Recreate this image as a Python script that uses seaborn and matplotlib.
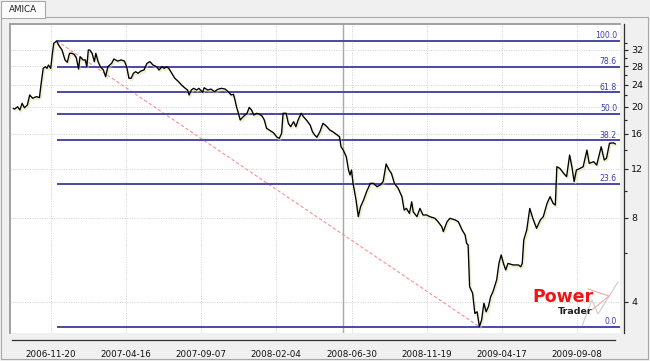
import numpy as np
import pandas as pd
import seaborn as sns
import matplotlib
matplotlib.use("Agg")
import matplotlib.pyplot as plt
from matplotlib.ticker import FixedLocator, FixedFormatter, NullFormatter
from matplotlib.patches import Rectangle
from matplotlib.lines import Line2D
import matplotlib.patheffects as pe

# ---------------- data (bar index, close price) ----------------
bars = [0, 2, 6, 9, 12, 15, 19, 22, 26, 31, 35, 37, 40, 43, 45, 47, 50, 52, 54, 58,
        60, 62, 65, 69, 72, 75, 78, 81, 84, 87, 89, 93, 96, 98, 100, 102, 105, 108, 110, 113,
        116, 120, 123, 126, 131, 134, 139, 144, 148, 151, 154, 157, 160, 163, 166, 170, 174, 178, 182, 186,
        191, 194, 198, 201, 204, 207, 211, 215, 220, 224, 229, 232, 234, 237, 240, 244, 247, 252, 254, 259,
        263, 268, 272, 277, 282, 286, 290, 293, 295, 297, 299, 302, 306, 311, 314, 317, 320, 324, 327, 331,
        334, 337, 342, 346, 351, 354, 357, 359, 363, 366, 369, 373, 376, 379, 383, 386, 390, 395, 398, 401,
        404, 408, 412, 415, 418, 421, 425, 428, 431, 434, 436, 439, 443, 446, 448, 450, 452, 456, 459, 462,
        466, 470, 475, 479, 484, 488, 492, 496, 500, 503, 507, 512, 517, 520, 523, 527, 530, 532, 537, 541,
        545, 550, 554, 561, 565, 570, 572, 577, 581, 588, 592, 597, 601, 603, 605, 607, 611, 614, 617, 620,
        623, 626, 629, 632, 635, 638, 643, 646, 649, 652, 655, 658, 665, 672, 675, 677, 679, 683, 687, 691,
        696, 701, 705, 710, 714, 718, 721, 723, 727, 732, 736, 740, 743, 746, 749, 754, 758, 763, 766, 772,
        776, 782, 786, 789, 793, 798, 801]
prices = [19.77, 19.65, 20.03, 19.50, 20.61, 19.87, 20.32, 22.08, 21.49, 21.77, 21.60, 23.96, 27.50, 27.87, 27.50, 28.26, 27.50, 30.70, 33.80, 34.50,
          33.50, 32.87, 32.00, 29.47, 28.91, 31.14, 31.14, 30.90, 30.03, 27.35, 30.28, 29.47, 29.47, 27.87, 32.00, 32.00, 31.14, 29.06, 31.14, 29.06,
          27.87, 27.13, 25.67, 27.87, 28.66, 29.71, 29.21, 29.47, 29.21, 27.87, 25.34, 25.34, 26.40, 26.75, 26.40, 26.91, 27.13, 28.66, 29.06, 28.26,
          27.87, 27.13, 27.87, 27.50, 27.87, 27.50, 26.40, 25.34, 24.64, 23.96, 23.32, 23.00, 22.08, 23.00, 23.32, 23.00, 23.32, 22.57, 23.43, 23.00,
          23.18, 22.68, 23.13, 23.32, 23.18, 22.68, 22.08, 22.21, 21.19, 20.03, 19.23, 17.96, 18.46, 18.98, 19.93, 19.50, 18.71, 18.98, 18.86, 18.57,
          17.96, 16.77, 16.44, 16.18, 15.57, 15.45, 16.09, 18.98, 18.98, 17.47, 16.99, 17.71, 16.99, 17.96, 18.98, 18.46, 17.96, 17.23, 16.31, 15.87,
          15.57, 16.31, 17.47, 17.23, 16.91, 16.54, 16.31, 16.09, 15.87, 15.65, 14.40, 14.01, 13.26, 11.88, 11.41, 11.88, 10.65, 9.28, 8.09, 8.78,
          9.28, 9.94, 10.65, 10.65, 10.36, 10.50, 10.80, 12.49, 11.88, 11.57, 10.65, 10.22, 9.54, 8.54, 8.66, 8.31, 9.15, 8.42, 8.09, 8.66,
          8.20, 8.20, 8.09, 7.98, 7.76, 7.45, 7.15, 7.76, 7.98, 7.87, 7.76, 7.25, 6.96, 6.49, 6.40, 4.54, 4.30, 3.64, 3.69, 3.26,
          3.45, 3.96, 3.69, 3.85, 4.18, 4.35, 4.80, 5.50, 5.90, 5.50, 5.21, 5.50, 5.43, 5.43, 5.35, 5.50, 6.67, 7.25, 8.66, 7.98,
          7.35, 7.87, 8.09, 9.03, 9.54, 9.03, 8.90, 12.21, 12.05, 11.57, 11.25, 13.45, 12.21, 10.80, 11.88, 12.05, 12.21, 14.01, 12.56, 12.73,
          12.38, 14.40, 12.91, 13.09, 14.81, 14.88, 14.73]

tick_bars = [50, 150, 250, 350, 450, 550, 650, 750]
tick_dates = ["2006-11-20", "2007-04-16", "2007-09-07", "2008-02-04",
              "2008-06-30", "2008-11-19", "2009-04-17", "2009-09-08"]
y_major = [4, 8, 12, 16, 20, 24, 28, 32]
y_minor = [6, 10, 14, 18, 22, 26, 30, 34]
fib_ratios = [0.0, 23.6, 38.2, 50.0, 61.8, 78.6, 100.0]
cursor_bar = 438
ticker_name = "AMICA"

df = pd.DataFrame({"bar": bars, "price": prices})

# ---------------- figure ----------------
W, H = 650, 361
sns.set_style("white")
plt.rcParams['font.family'] = ['DejaVu Sans']
fig = plt.figure(figsize=(W / 100, H / 100), dpi=100, facecolor="#f0f0f0")

def fx(px):
    return px / W

def fy(py):
    return 1 - py / H

# panel frame and tab
fig.add_artist(Rectangle((fx(1), fy(359)), fx(647) - fx(0), fy(17) - fy(359),
                         transform=fig.transFigure, facecolor="#f0f0f0",
                         edgecolor="#a8a8a8", lw=0.8, zorder=0))
fig.add_artist(Rectangle((fx(1), fy(17.6)), fx(44), fy(1) - fy(17.6),
                         transform=fig.transFigure, facecolor="#fbfbfb",
                         edgecolor="#a8a8a8", lw=0.8, zorder=1))
fig.add_artist(Rectangle((fx(1.5), fy(18.3)), fx(43), fy(16.6) - fy(18.3),
                         transform=fig.transFigure, facecolor="#fbfbfb",
                         edgecolor="none", zorder=2))
fig.text(fx(23), fy(9), ticker_name, ha="center", va="center",
         fontsize=6.3, color="#202020", zorder=3)

ax = fig.add_axes([fx(9.5), fy(333), fx(620) - fx(9.5), fy(24) - fy(333)])
ax.set_facecolor("white")

# price line with pale shadow
sns.lineplot(data=df, x="bar", y="price", ax=ax, color="black", lw=0.95,
             estimator=None, sort=False, zorder=5)
ax.lines[-1].set_path_effects([pe.SimpleLineShadow(offset=(0.8, -1.2), shadow_color="#dede9a",
                                                   alpha=0.5, linewidth=1.4), pe.Normal()])

ax.set_yscale("log")
ax.set_xlim(-4.8, 807)
ax.set_ylim(3.097, 39.65)

# fibonacci retracement
hi_i = int(np.argmax(prices))
lo_i = int(np.argmin(prices))
hi, lo = prices[hi_i], prices[lo_i]
x_end = 807
for r in fib_ratios:
    lvl = lo + r / 100 * (hi - lo)
    ax.hlines(lvl, bars[hi_i], x_end, color="#4a4aa6", lw=1.4, zorder=4)
    ax.text(803, lvl * 1.004, f"{r:.1f}", ha="right", va="bottom",
            fontsize=5.6, color="#3c3cb0", zorder=6)
ax.plot([bars[hi_i], bars[lo_i]], [hi, lo], color="#ff8c8c", lw=0.8,
        ls=(0, (3, 2)), zorder=3)

# cursor line
ax.axvline(cursor_bar, color="#a8a8a8", lw=1.0, zorder=2)

# axes / ticks
ax.set_xticks(tick_bars)
ax.set_xticklabels(tick_dates)
ax.yaxis.tick_right()
ax.yaxis.set_major_locator(FixedLocator(y_major))
ax.yaxis.set_major_formatter(FixedFormatter([str(v) for v in y_major]))
ax.yaxis.set_minor_locator(FixedLocator(y_minor))
ax.yaxis.set_minor_formatter(NullFormatter())
ax.tick_params(axis="x", direction="out", length=4, width=0.8, color="#202020",
               labelsize=6.3, pad=3.2, labelcolor="#101010")
ax.tick_params(axis="y", which="both", direction="out", length=3, width=0.8,
               color="#202020", labelsize=6.8, pad=2, labelcolor="#101010")
ax.tick_params(axis="y", which="minor", length=2.5)
ax.set_xlabel("")
ax.set_ylabel("")

ax.grid(True, which="major", axis="both", color="#cfcfcf", lw=0.7, ls=(0, (1, 1.5)))
ax.set_axisbelow(True)

for s in ["left", "top"]:
    ax.spines[s].set_color("#9a9a9a")
    ax.spines[s].set_linewidth(1.3)
ax.spines["right"].set_position(("outward", 3))
ax.spines["right"].set_color("#303030")
ax.spines["right"].set_linewidth(0.9)
ax.spines["bottom"].set_position(("outward", 5))
ax.spines["bottom"].set_color("#303030")
ax.spines["bottom"].set_linewidth(0.9)
ax.spines["bottom"].set_bounds(-1, 801)

# watermark logo
def afx(px):
    return (px - 9.5) / 610.5

def afy(py):
    return (333 - py) / 309

for seg, col in [([(582, 326), (592, 300), (598, 314), (618, 282)], "#cccccc"),
                 ([(588, 289), (609, 296), (592, 310)], "#f4a8a8")]:
    xs = [afx(p[0]) for p in seg]
    ys = [afy(p[1]) for p in seg]
    ax.add_line(Line2D(xs, ys, transform=ax.transAxes, color=col, lw=0.8, zorder=1))
ax.text(afx(532), afy(301.5), "Power", transform=ax.transAxes, ha="left", va="baseline",
        fontsize=12.5, fontweight="bold", color="#f01414", zorder=7)
ax.text(afx(593), afy(314.5), "Trader", transform=ax.transAxes, ha="right", va="baseline",
        fontsize=6.8, fontweight="bold", color="#202020", zorder=7)

fig.savefig("out.png", dpi=100, facecolor=fig.get_facecolor())
